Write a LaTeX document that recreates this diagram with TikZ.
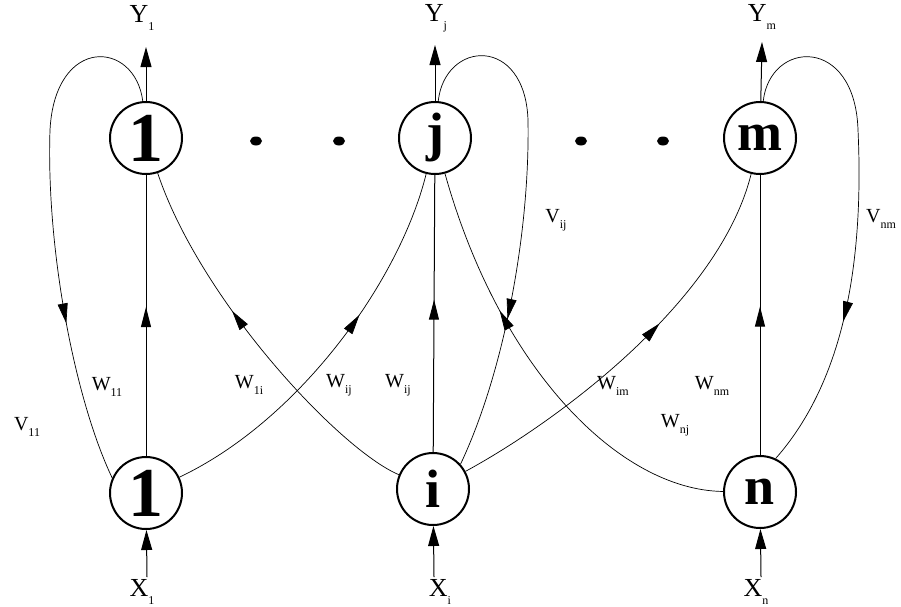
\documentclass[tikz,border=0pt]{standalone}
\usepackage{fontspec}
\setmainfont{Liberation Serif}
\usetikzlibrary{arrows.meta,decorations.markings}
\newcommand\lblsub[2]{#1\raisebox{-0.3em}{\fontsize{12}{12}\selectfont #2}}
\begin{document}
\begin{tikzpicture}[x=1pt,y=-1pt,
  neuron/.style={circle, draw, line width=2pt, minimum size=72pt, inner sep=0pt,
    font=\fontsize{54}{54}\selectfont\bfseries},
  conn/.style={line width=0.7pt},
  vconn/.style={line width=1pt},
  midarr/.style={postaction={decorate,decoration={markings,
    mark=at position #1 with {\arrow{Triangle[length=20pt,width=10pt]}}}}},
  endarr/.style={-{Triangle[length=20pt,width=11pt]}},
  wlabel/.style={font=\fontsize{20}{20}\selectfont, inner sep=0pt},
  iolabel/.style={font=\fontsize{26}{26}\selectfont, inner sep=0pt},
  dotmark/.style={fill, ellipse, minimum width=12pt, minimum height=9pt, inner sep=0pt}]
\useasboundingbox (0,0) rectangle (901,606);

% neurons
\node[neuron] (t1) at (146,138) {\fontsize{70}{70}\selectfont 1};
\node[neuron] (tj) at (435,138) {j};
\node[neuron] (tm) at (760,138) {m};
\node[neuron] (b1) at (146,493) {\fontsize{70}{70}\selectfont 1};
\node[neuron] (bi) at (433,489) {i};
\node[neuron] (bn) at (760,492) {n};

% dots
\fill (256,141) ellipse (6pt and 4.5pt);
\fill (339,141) ellipse (6pt and 4.5pt);
\fill (581,141) ellipse (6pt and 4.5pt);
\fill (663,141) ellipse (6pt and 4.5pt);

% outputs
\node[iolabel] (Y1) at (142,18) {\lblsub{Y}{1}};
\node[iolabel] (Yj) at (436,18) {\lblsub{Y}{j}};
\node[iolabel] (Ym) at (762,17) {\lblsub{Y}{m}};
\coordinate (ya1) at (146,47);
\coordinate (yaj) at (435,45);
\coordinate (yam) at (762,42);
\draw[vconn,endarr] (t1) -- (ya1);
\draw[vconn,endarr] (tj) -- (yaj);
\draw[vconn,endarr] (tm) -- (yam);

% inputs
\node[iolabel] (X1) at (142,592) {\lblsub{X}{1}};
\node[iolabel] (Xi) at (440,592) {\lblsub{X}{i}};
\node[iolabel] (Xn) at (756,592) {\lblsub{X}{n}};
\coordinate (xa1) at (147,577);
\coordinate (xai) at (434,577);
\coordinate (xan) at (761,577);
\draw[vconn,endarr] (xa1) -- (b1);
\draw[vconn,endarr] (xai) -- (bi);
\draw[vconn,endarr] (xan) -- (bn);

% vertical weights
\draw[vconn,midarr=0.53] (b1) -- (t1);
\draw[vconn,midarr=0.55] (bi) -- (tj);
\draw[vconn,midarr=0.53] (bn) -- (tm);

% cross weights
\draw[conn,midarr=0.61] (b1) .. controls (300,420) and (400,280) .. (tj);
\draw[conn,midarr=0.60] (bi) .. controls (340,450) and (200,300) .. (t1);
\draw[conn,midarr=0.58] (bi) .. controls (560,420) and (720,300) .. (tm);
\draw[conn,midarr=0.67] (bn) .. controls (620,490) and (500,370) .. (tj);

% feedback loops
\draw[conn,midarr=0.69] (t1.95) .. controls (135,40) and (55,35) .. (50,130)
  .. controls (46,250) and (75,400) .. (b1.156);
\draw[conn,midarr=0.70] (tj.85) .. controls (445,40) and (525,35) .. (528,120)
  .. controls (530,230) and (505,370) .. (bi.42);
\draw[conn,midarr=0.70] (tm.85) .. controls (770,40) and (855,35) .. (858,130)
  .. controls (864,260) and (845,380) .. (bn.65);

% labels
\node[wlabel] (v11) at (27,427) {\lblsub{V}{11}};
\node[wlabel] (w11) at (107,387) {\lblsub{W}{11}};
\node[wlabel] (w1i) at (249,385) {\lblsub{W}{1i}};
\node[wlabel] (wij1) at (339,385) {\lblsub{W}{ij}};
\node[wlabel] (wij2) at (398,385) {\lblsub{W}{ij}};
\node[wlabel] (wim) at (613,386) {\lblsub{W}{im}};
\node[wlabel] (wnm) at (712,386) {\lblsub{W}{nm}};
\node[wlabel] (wnj) at (675,425) {\lblsub{W}{nj}};
\node[wlabel] (vij) at (556,220) {\lblsub{V}{ij}};
\node[wlabel] (vnm) at (881,219) {\lblsub{V}{nm}};
\end{tikzpicture}
\end{document}
